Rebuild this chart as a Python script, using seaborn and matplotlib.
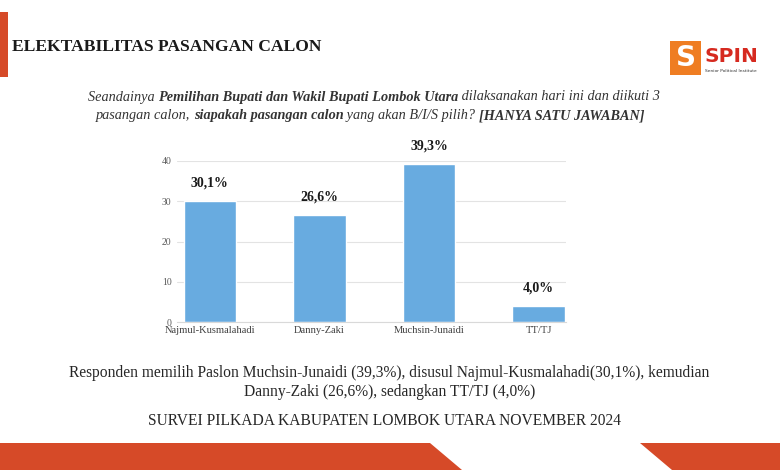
import matplotlib
matplotlib.use("Agg")
import matplotlib.pyplot as plt
import matplotlib.patches as mpatches
import seaborn as sns
import pandas as pd

categories = ["Najmul-Kusmalahadi", "Danny-Zaki", "Muchsin-Junaidi", "TT/TJ"]
values = [30.1, 26.6, 39.3, 4.0]
value_labels = ["30,1%", "26,6%", "39,3%", "4,0%"]
y_ticks = [0, 10, 20, 30, 40]

sns.set_theme(style="white")
plt.rcParams['font.family'] = ['Liberation Serif', 'DejaVu Serif']

W, H = 780, 470
fig = plt.figure(figsize=(W / 100, H / 100), dpi=100)
fig.patch.set_facecolor("white")

def fx(x):
    return x / W

def fy(y):
    return 1 - y / H

RED = "#d64a28"

# left red accent bar
fig.add_artist(mpatches.Rectangle((fx(0), fy(77)), fx(8), 65 / H, transform=fig.transFigure,
                                  facecolor=RED, edgecolor="none"))
# bottom bands
fig.add_artist(mpatches.Polygon([(fx(0), fy(443)), (fx(430), fy(443)), (fx(462), fy(470)), (fx(0), fy(470))],
                                closed=True, transform=fig.transFigure, facecolor=RED, edgecolor="none"))
fig.add_artist(mpatches.Polygon([(fx(640), fy(443)), (fx(780), fy(443)), (fx(780), fy(470)), (fx(672), fy(470))],
                                closed=True, transform=fig.transFigure, facecolor=RED, edgecolor="none"))

# title
fig.text(fx(12), fy(47), "ELEKTABILITAS PASANGAN CALON", fontsize=12.6, fontweight="bold",
         color="#1a1a1a", ha="left", va="center")

# logo
fig.add_artist(mpatches.Rectangle((fx(670), fy(75)), fx(31), 34 / H, transform=fig.transFigure,
                                  facecolor="#ef7d22", edgecolor="none"))
fig.text(fx(685.5), fy(58), "S", fontsize=20, fontweight="bold", color="white",
         ha="center", va="center", family=["DejaVu Sans"])
fig.text(fx(704), fy(56), "SPIN", fontsize=14.5, fontweight="bold", color="#d62a20",
         ha="left", va="center", family=["DejaVu Sans"])
fig.text(fx(705), fy(71), "Senior Political Institute", fontsize=3.2, color="#333333",
         ha="left", va="center", family=["DejaVu Sans"])

# question text
line1 = [("Seandainya ", "normal"), ("Pemilihan Bupati dan Wakil Bupati Lombok Utara", "bold"),
         (" dilaksanakan hari ini dan diikuti 3", "normal")]
line2 = [("pasangan calon, ", "normal"), ("siapakah pasangan calon", "bold"),
         (" yang akan B/I/S pilih? ", "normal"), ("[HANYA SATU JAWABAN]", "bold")]

def draw_mixed(parts, ycenter, xcenter, fs):
    renderer = fig.canvas.get_renderer()
    texts = []
    widths = []
    for s, w in parts:
        t = fig.text(0, fy(ycenter), s, fontsize=fs, fontstyle="italic", fontweight=w,
                     color="#333333", ha="left", va="center")
        bb = t.get_window_extent(renderer=renderer)
        texts.append(t)
        widths.append(bb.width)
    total = sum(widths)
    x = xcenter - total / 2
    for t, wd in zip(texts, widths):
        t.set_x(fx(x))
        x += wd

draw_mixed(line1, 97, 374, 10.3)
draw_mixed(line2, 116, 370, 10.3)

# chart
ax = fig.add_axes([fx(177), fy(322), fx(566) - fx(177), (322 - 161) / H])
df = pd.DataFrame({"cat": categories, "val": values})
sns.barplot(data=df, x="cat", y="val", color="#68abe0", width=0.48, ax=ax, saturation=1)
ax.set_xlim(-0.3, 3.25)
ax.set_ylim(0, 40)
ax.set_yticks(y_ticks)
ax.set_yticklabels([str(v) for v in y_ticks], fontsize=7, color="#595959")
ax.tick_params(axis="x", labelsize=7.6, colors="#404040", length=0, pad=3)
ax.tick_params(axis="y", length=0, pad=4)
ax.set_xlabel("")
ax.set_ylabel("")
ax.grid(axis="y", color="#e3e3e3", linewidth=0.8)
ax.set_axisbelow(True)
for s in ["top", "right", "left"]:
    ax.spines[s].set_visible(False)
ax.spines["bottom"].set_color("#d9d9d9")
ax.spines["bottom"].set_linewidth(0.8)
for i, (v, lab) in enumerate(zip(values, value_labels)):
    ax.annotate(lab, (i, v), xytext=(0, 13), textcoords="offset points", ha="center", va="center",
                fontsize=10, fontweight="bold", color="#1a1a1a", annotation_clip=False)

# bottom text
fig.text(fx(389), fy(373),
         "Responden memilih Paslon Muchsin-Junaidi (39,3%), disusul Najmul-Kusmalahadi(30,1%), kemudian",
         fontsize=11.2, color="#262626", ha="center", va="center")
fig.text(fx(390), fy(392), "Danny-Zaki (26,6%), sedangkan TT/TJ (4,0%)",
         fontsize=11.2, color="#262626", ha="center", va="center")
fig.text(fx(385), fy(421), "SURVEI PILKADA KABUPATEN LOMBOK UTARA NOVEMBER 2024",
         fontsize=11.2, color="#262626", ha="center", va="center")

fig.savefig("out.png", dpi=100, facecolor="white")
